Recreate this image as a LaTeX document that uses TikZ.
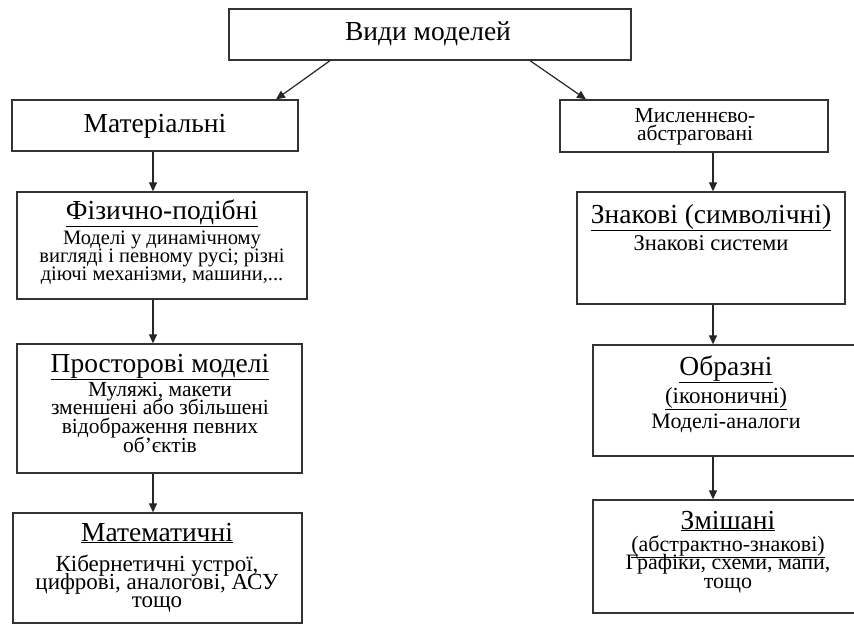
\documentclass[tikz,border=0pt]{standalone}
\usepackage{fontspec}
\setmainfont{Liberation Serif}
\usetikzlibrary{arrows.meta,calc}
\newcommand{\vlines}[2]{\vtop{\baselineskip=#1\lineskiplimit=-100pt\halign{\hfil##\hfil\cr#2\crcr}}}
\begin{document}
\begin{tikzpicture}[x=1pt,y=-1pt,
  box/.style={draw=black!80, line width=1.3pt, rectangle, inner sep=0pt},
  arr/.style={draw=black!85, line width=1.2pt, -{Triangle[length=9pt,width=8pt]}},
  hd/.style={anchor=base, font=\fontsize{27.5}{27.5}\selectfont, inner sep=0pt},
  txt/.style={anchor=base, inner sep=0pt, font=\fontsize{#1}{#1}\selectfont}]
\useasboundingbox (0,0) rectangle (854,626);
\fill[white] (0,0) rectangle (854,626);
% boxes
\node[box, minimum width=402pt, minimum height=51pt] (top) at (430,34.5) {};
\node[box, minimum width=286pt, minimum height=51pt] (mat) at (155,125.5) {};
\node[box, minimum width=268pt, minimum height=52pt] (mys) at (694,126) {};
\node[box, minimum width=290pt, minimum height=107pt] (fiz) at (162,245.5) {};
\node[box, minimum width=285pt, minimum height=129pt] (pros) at (159.5,408.5) {};
\node[box, minimum width=289pt, minimum height=110pt] (mat2) at (157.5,568) {};
\node[box, minimum width=268pt, minimum height=112pt] (zn) at (711,248) {};
\node[box, minimum width=265pt, minimum height=111pt] (obr) at (725.5,400.5) {};
\node[box, minimum width=269pt, minimum height=113pt] (zm) at (727.5,556.5) {};
% connectors
\coordinate (cL) at (153,0);
\coordinate (cR) at (713,0);
\draw[arr] ($(top.south)+(-100,0)$) -- ($(mat.north)+(121,0)$);
\draw[arr] ($(top.south)+(100,0)$) -- ($(mys.north)+(-108,0)$);
\draw[arr] (mat.south -| cL) -- (fiz.north -| cL);
\draw[arr] (fiz.south -| cL) -- (pros.north -| cL);
\draw[arr] (pros.south -| cL) -- (mat2.north -| cL);
\draw[arr] (mys.south -| cR) -- (zn.north -| cR);
\draw[arr] (zn.south -| cR) -- (obr.north -| cR);
\draw[arr] (obr.south -| cR) -- (zm.north -| cR);
% texts
\node[hd] (tTop) at (428,41) {Види моделей};
\node[hd] (tMat) at (155,132) {Матеріальні};
\node[txt=21.5] (tMys) at (695,122) {\vlines{18pt}{Мисленнєво-\cr абстраговані}};
\node[hd] (tFiz) at (162,219) {\underline{Фізично-подібні}};
\node[txt=20.5] (tFizB) at (162,244) {\vlines{18pt}{Моделі у динамічному\cr вигляді і певному русі; різні\cr діючі механізми, машини,...}};
\node[hd] (tPros) at (160,372) {\underline{Просторові моделі}};
\node[txt=21.5] (tProsB) at (160,396) {\vlines{18.8pt}{Муляжі, макети\cr зменшені або збільшені\cr відображення певних\cr об’єктів}};
\node[hd] (tMat2) at (157,541) {\underline{Математичні}};
\node[txt=23] (tMat2B) at (157,571) {\vlines{18.3pt}{Кібернетичні устрої,\cr цифрові, аналогові, АСУ\cr тощо}};
\node[hd] (tZn) at (711,223) {\underline{Знакові (символічні)}};
\node[txt=22.5] (tZnB) at (711,250) {Знакові системи};
\node[hd] (tObr) at (726,375) {\underline{Образні}};
\node[txt=23] (tObrS) at (726,403) {\underline{(ікононичні)}};
\node[txt=22] (tObrB) at (726,428) {Моделі-аналоги};
\node[hd] (tZm) at (728,529) {\underline{Змішані}};
\node[txt=22] (tZmB) at (728,551) {\vlines{18.5pt}{{\fontsize{22}{22}\selectfont\underline{(абстрактно-знакові)}}\cr Графіки, схеми, мапи,\cr тощо}};
\end{tikzpicture}
\end{document}
